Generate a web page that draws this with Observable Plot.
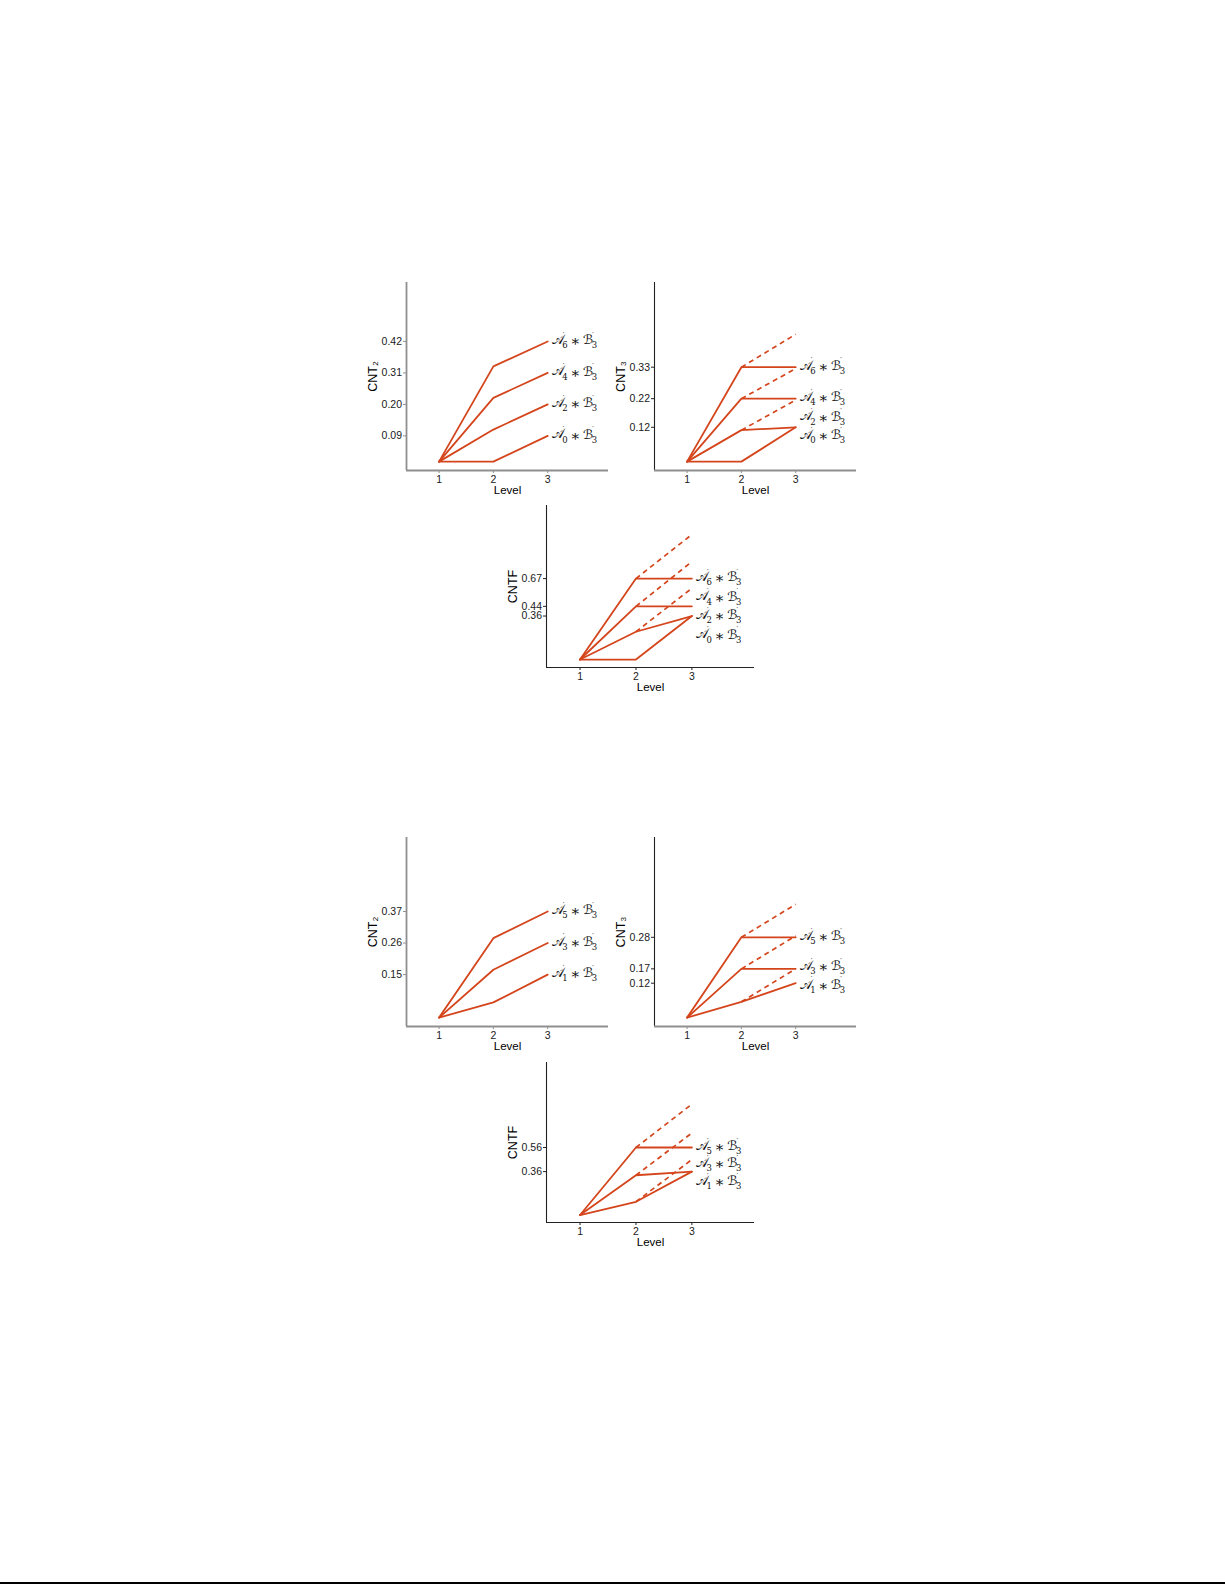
<!DOCTYPE html>
<html>
<head>
<meta charset="utf-8">
<script src="https://cdn.jsdelivr.net/npm/d3@7"></script>
<script src="https://cdn.jsdelivr.net/npm/@observablehq/plot@0.6"></script>
<style>
  body { margin: 0; background: #fff; }
  #page { position: relative; width: 1225px; height: 1585px; overflow: hidden; background: #fff;
          font-family: "Liberation Sans", Arial, sans-serif; }
  #page svg { position: absolute; overflow: visible; background: transparent; }
  #rule { position: absolute; left: 0; right: 0; top: 1582px; height: 1.5px; background: #000; }
</style>
</head>
<body>
<div id="page"><div id="rule"></div></div>
<script>
// ---------------- DATA ----------------
const levels = [1, 2, 3];
const xTicks = [1, 2, 3];

// Upper figure: A'_6, A'_4, A'_2, A'_0 (each * B'_3)
const topSeries = ["A6", "A4", "A2", "A0"];
const topCnt2 = [[0, 0.333, 0.42], [0, 0.223, 0.31], [0, 0.112, 0.20], [0, 0, 0.09]];
const topCnt3 = [[0, 0.33, 0.33], [0, 0.22, 0.22], [0, 0.11, 0.12], [0, 0, 0.12]];
const topCnt3Dashed = [0.445, 0.325, 0.215, null];   // level-3 end of dashed continuation
const topCntF = [[0, 0.67, 0.67], [0, 0.44, 0.44], [0, 0.23, 0.36], [0, 0, 0.36]];
const topCntFDashed = [1.035, 0.81, 0.59, null];
const topCnt2Ticks = [0.09, 0.20, 0.31, 0.42];
const topCnt3Ticks = [0.12, 0.22, 0.33];
const topCntFTicks = [0.36, 0.44, 0.67];
const topCnt2LabelY = [0.42, 0.31, 0.20, 0.09];
const topCnt3LabelY = [0.33, 0.22, 0.153, 0.088];
const topCntFLabelY = [0.67, 0.51, 0.355, 0.195];

// Lower figure: A'_5, A'_3, A'_1 (each * B'_3)
const botSeries = ["A5", "A3", "A1"];
const botCnt2 = [[0, 0.277, 0.37], [0, 0.167, 0.26], [0, 0.053, 0.15]];
const botCnt3 = [[0, 0.28, 0.28], [0, 0.17, 0.17], [0, 0.055, 0.12]];
const botCnt3Dashed = [0.395, 0.285, 0.17];
const botCntF = [[0, 0.56, 0.56], [0, 0.33, 0.36], [0, 0.11, 0.36]];
const botCntFDashed = [0.92, 0.68, 0.46];
const botCnt2Ticks = [0.15, 0.26, 0.37];
const botCnt3Ticks = [0.12, 0.17, 0.28];
const botCntFTicks = [0.36, 0.56];
const botCnt2LabelY = [0.37, 0.26, 0.15];
const botCnt3LabelY = [0.28, 0.175, 0.11];
const botCntFLabelY = [0.56, 0.42, 0.27];

const yTitles = { cnt2: "CNT\u2082", cnt3: "CNT\u2083", cntf: "CNTF" };
const xTitle = "Level";

// ---------------- DRAWING ----------------
const page = document.getElementById("page");
const lineColor = "#d4451c";
const textFont = "'Liberation Sans', Arial, sans-serif";
const mathFont = "'DejaVu Serif', 'DejaVu Sans', serif";

function panel(cfg) {
  const ml = 60, mt = 10, mr = 10, mb = 30;
  const xDom = [0.4, 4.12];
  const rows = [];
  cfg.series.forEach((s, i) => levels.forEach((lv, j) => rows.push({ series: s, level: lv, value: cfg.values[i][j] })));
  const dashRows = [];
  if (cfg.dashed) {
    cfg.series.forEach((s, i) => {
      if (cfg.dashed[i] != null) {
        dashRows.push({ series: s, level: levels[1], value: cfg.values[i][1] });
        dashRows.push({ series: s, level: levels[2], value: cfg.dashed[i] });
      }
    });
  }
  const lastLevel = levels[levels.length - 1];
  const labs = cfg.series.map((s, i) => ({ series: s, idx: s.slice(1), level: lastLevel, y: cfg.labelY[i] }));
  const lab = (text, o) => Plot.text(labs, { x: "level", y: "y", text, textAnchor: "start", fill: "#111",
                                            fontFamily: mathFont, lineAnchor: "middle", ...o });
  const chart = Plot.plot({
    width: ml + cfg.fw + mr, height: mt + cfg.fh + mb,
    marginLeft: ml, marginTop: mt, marginRight: mr, marginBottom: mb,
    x: { domain: xDom },
    y: { domain: cfg.yDomain },
    style: { background: "transparent", overflow: "visible", fontFamily: textFont },
    marks: [
      Plot.axisX({ ticks: xTicks, tickSize: 3, tickPadding: 2, fontSize: 10.5, tickFormat: d => String(d),
                   stroke: cfg.xAxisColor, fill: "#1a1a1a", label: null }),
      Plot.axisY({ ticks: cfg.ticks, tickSize: 3, tickPadding: 1.5, fontSize: 10.5, tickFormat: d3.format(".2f"),
                   stroke: cfg.yAxisColor, fill: "#1a1a1a", label: null }),
      Plot.ruleX([xDom[0]], { stroke: cfg.yAxisColor, strokeWidth: cfg.yAxisWidth }),
      Plot.ruleY([cfg.yDomain[0]], { stroke: cfg.xAxisColor, strokeWidth: cfg.xAxisWidth }),
      Plot.line(dashRows, { x: "level", y: "value", z: "series", stroke: lineColor, strokeWidth: 1.7,
                            strokeDasharray: "5,4", strokeLinecap: "butt" }),
      Plot.line(rows, { x: "level", y: "value", z: "series", stroke: lineColor, strokeWidth: 1.8 }),
      Plot.text([cfg.yTitle], { frameAnchor: "left", dx: -34, rotate: -90, fontSize: 12.5, fill: "#000",
                                textAnchor: "middle", lineAnchor: "middle" }),
      Plot.text([xTitle], { frameAnchor: "bottom", dy: 20, fontSize: 11.5, fill: "#000",
                            textAnchor: "middle", lineAnchor: "middle" }),
      // label pieces: 𝒜'_k ∗ ℬ'_3
      lab(() => "\u{1D49C}", { dx: 4, dy: -1.5, fontSize: 12.5 }),
      lab(() => "\u2032", { dx: 15, dy: -7, fontSize: 7 }),
      lab("idx", { dx: 14.5, dy: 4, fontSize: 8.5 }),
      lab(() => "\u2217", { dx: 27.5, textAnchor: "middle", fontSize: 15 }),
      lab(() => "\u212C", { dx: 35, dy: -1.5, fontSize: 13 }),
      lab(() => "\u2032", { dx: 44.5, dy: -7, fontSize: 7 }),
      lab(() => "3", { dx: 44, dy: 4, fontSize: 8.5 })
    ]
  });
  chart.style.left = (cfg.fl - ml) + "px";
  chart.style.top = (cfg.ft - mt) + "px";
  page.appendChild(chart);
}

const grayAx = "#8f8f8f", darkAx = "#222";
const topY = [-0.031, 0.626], botY = [-0.031, 0.628];

panel({ series: topSeries, values: topCnt2, dashed: null, ticks: topCnt2Ticks, labelY: topCnt2LabelY,
        yTitle: yTitles.cnt2, fl: 406, ft: 282, fw: 202, fh: 188, yDomain: topY,
        xAxisColor: grayAx, xAxisWidth: 1.8, yAxisColor: grayAx, yAxisWidth: 1.8 });
panel({ series: topSeries, values: topCnt3, dashed: topCnt3Dashed, ticks: topCnt3Ticks, labelY: topCnt3LabelY,
        yTitle: yTitles.cnt3, fl: 654, ft: 282, fw: 202, fh: 188, yDomain: topY,
        xAxisColor: grayAx, xAxisWidth: 1.8, yAxisColor: darkAx, yAxisWidth: 1.1 });
panel({ series: topSeries, values: topCntF, dashed: topCntFDashed, ticks: topCntFTicks, labelY: topCntFLabelY,
        yTitle: yTitles.cntf, fl: 546, ft: 505, fw: 208, fh: 162, yDomain: [-0.066, 1.275],
        xAxisColor: darkAx, xAxisWidth: 1.1, yAxisColor: darkAx, yAxisWidth: 1.1 });
panel({ series: botSeries, values: botCnt2, dashed: null, ticks: botCnt2Ticks, labelY: botCnt2LabelY,
        yTitle: yTitles.cnt2, fl: 406, ft: 837, fw: 202, fh: 189, yDomain: botY,
        xAxisColor: grayAx, xAxisWidth: 1.8, yAxisColor: grayAx, yAxisWidth: 1.8 });
panel({ series: botSeries, values: botCnt3, dashed: botCnt3Dashed, ticks: botCnt3Ticks, labelY: botCnt3LabelY,
        yTitle: yTitles.cnt3, fl: 654, ft: 837, fw: 202, fh: 189, yDomain: botY,
        xAxisColor: grayAx, xAxisWidth: 1.8, yAxisColor: darkAx, yAxisWidth: 1.1 });
panel({ series: botSeries, values: botCntF, dashed: botCntFDashed, ticks: botCntFTicks, labelY: botCntFLabelY,
        yTitle: yTitles.cntf, fl: 546, ft: 1062, fw: 208, fh: 160, yDomain: [-0.062, 1.265],
        xAxisColor: darkAx, xAxisWidth: 1.1, yAxisColor: darkAx, yAxisWidth: 1.1 });
</script>
</body>
</html>
